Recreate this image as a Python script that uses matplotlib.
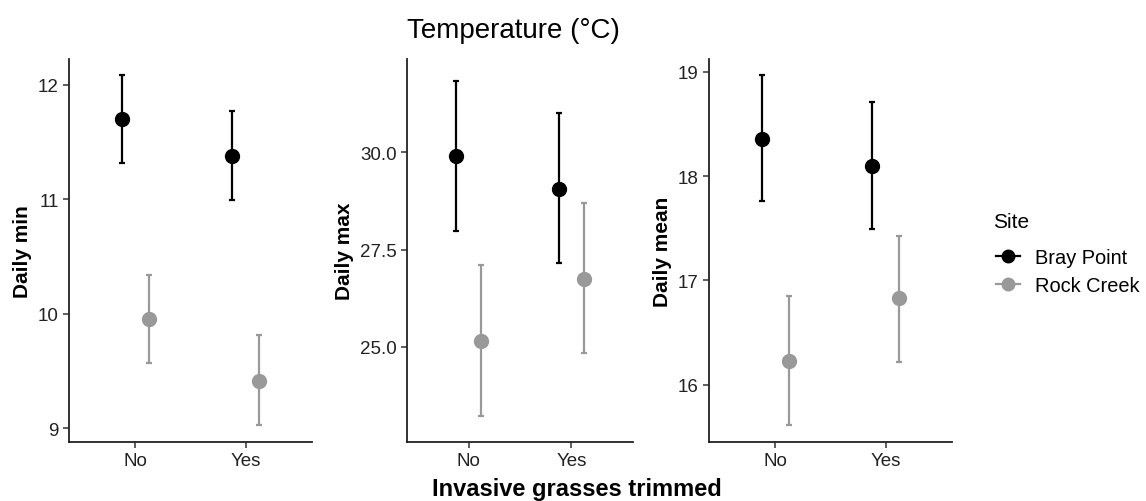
import matplotlib.pyplot as plt
from matplotlib.lines import Line2D

plt.rcParams['font.family'] = ['Liberation Sans', 'DejaVu Sans']

groups = ["No", "Yes"]
sites = ["Bray Point", "Rock Creek"]
colors = ["#000000", "#999999"]

ylabels = ["Daily min", "Daily max", "Daily mean"]

# mean, lower, upper per site (No, Yes)
min_mean = {"Bray Point": [11.70, 11.376], "Rock Creek": [9.95, 9.41]}
min_lo = {"Bray Point": [11.315, 10.99], "Rock Creek": [9.57, 9.03]}
min_hi = {"Bray Point": [12.09, 11.77], "Rock Creek": [10.34, 9.81]}

max_mean = {"Bray Point": [29.90, 29.06], "Rock Creek": [25.15, 26.75]}
max_lo = {"Bray Point": [27.98, 27.15], "Rock Creek": [23.22, 24.84]}
max_hi = {"Bray Point": [31.83, 31.00], "Rock Creek": [27.10, 28.70]}

mean_mean = {"Bray Point": [18.355, 18.10], "Rock Creek": [16.23, 16.83]}
mean_lo = {"Bray Point": [17.76, 17.49], "Rock Creek": [15.62, 16.22]}
mean_hi = {"Bray Point": [18.97, 18.71], "Rock Creek": [16.85, 17.43]}

yticks = [[9, 10, 11, 12], [25.0, 27.5, 30.0], [16, 17, 18, 19]]
yticklabels = [["9", "10", "11", "12"], ["25.0", "27.5", "30.0"], ["16", "17", "18", "19"]]
ylims = [(8.878, 12.227), (22.55, 32.40), (15.454, 19.12)]

W, H = 1146, 502
boxes = [(69, 312), (407, 633), (709, 952)]
top_px, bot_px = 60, 443

fig = plt.figure(figsize=(W / 100, H / 100), dpi=100)

data = [(min_mean, min_lo, min_hi), (max_mean, max_lo, max_hi), (mean_mean, mean_lo, mean_hi)]
dodge = [-0.12, 0.12]

for k, (x0, x1) in enumerate(boxes):
    ax = fig.add_axes([x0 / W, 1 - bot_px / H, (x1 - x0) / W, (bot_px - top_px) / H])
    mean, lo, hi = data[k]
    for s, site in enumerate(sites):
        xs = [i + 1 + dodge[s] for i in range(len(groups))]
        m = mean[site]
        yerr = [[m[i] - lo[site][i] for i in range(2)], [hi[site][i] - m[i] for i in range(2)]]
        ax.errorbar(xs, m, yerr=yerr, fmt='none', ecolor=colors[s], elinewidth=1.6,
                    capsize=2.2, capthick=1.6, zorder=2)
        ax.plot(xs, m, 'o', color=colors[s], markersize=10, zorder=3)
    ax.set_xlim(0.4, 2.6)
    ax.set_ylim(*ylims[k])
    ax.set_xticks([1, 2])
    ax.set_xticklabels(groups)
    ax.set_yticks(yticks[k])
    ax.set_yticklabels(yticklabels[k])
    ax.set_ylabel(ylabels[k], fontsize=15, fontweight='bold', labelpad=4)
    for side in ['top', 'right']:
        ax.spines[side].set_visible(False)
    for side in ['left', 'bottom']:
        ax.spines[side].set_linewidth(1.3)
        ax.spines[side].set_color('#222222')
    ax.tick_params(axis='both', labelsize=13.5, colors='#333333', length=4, width=1.1,
                   labelcolor='#222222')

fig.text(513 / W, 1 - 38 / H, "Temperature (°C)", fontsize=20, ha='center', va='baseline')
fig.text(577 / W, 1 - 496 / H, "Invasive grasses trimmed", fontsize=17,
         fontweight='bold', ha='center', va='baseline')

fig.text(993 / W, 1 - 228 / H, "Site", fontsize=15, ha='left', va='baseline')
handles = [Line2D([0], [0], color=colors[s], marker='o', markersize=9, linewidth=1.6)
           for s in range(len(sites))]
leg = fig.legend(handles, sites, loc='center left',
                 bbox_to_anchor=(996 / W, 1 - 272.5 / H), frameon=False, fontsize=14.4,
                 handlelength=1.2, labelspacing=0.45, handletextpad=0.75,
                 borderpad=0, borderaxespad=0)

fig.savefig("out.png", dpi=100)
